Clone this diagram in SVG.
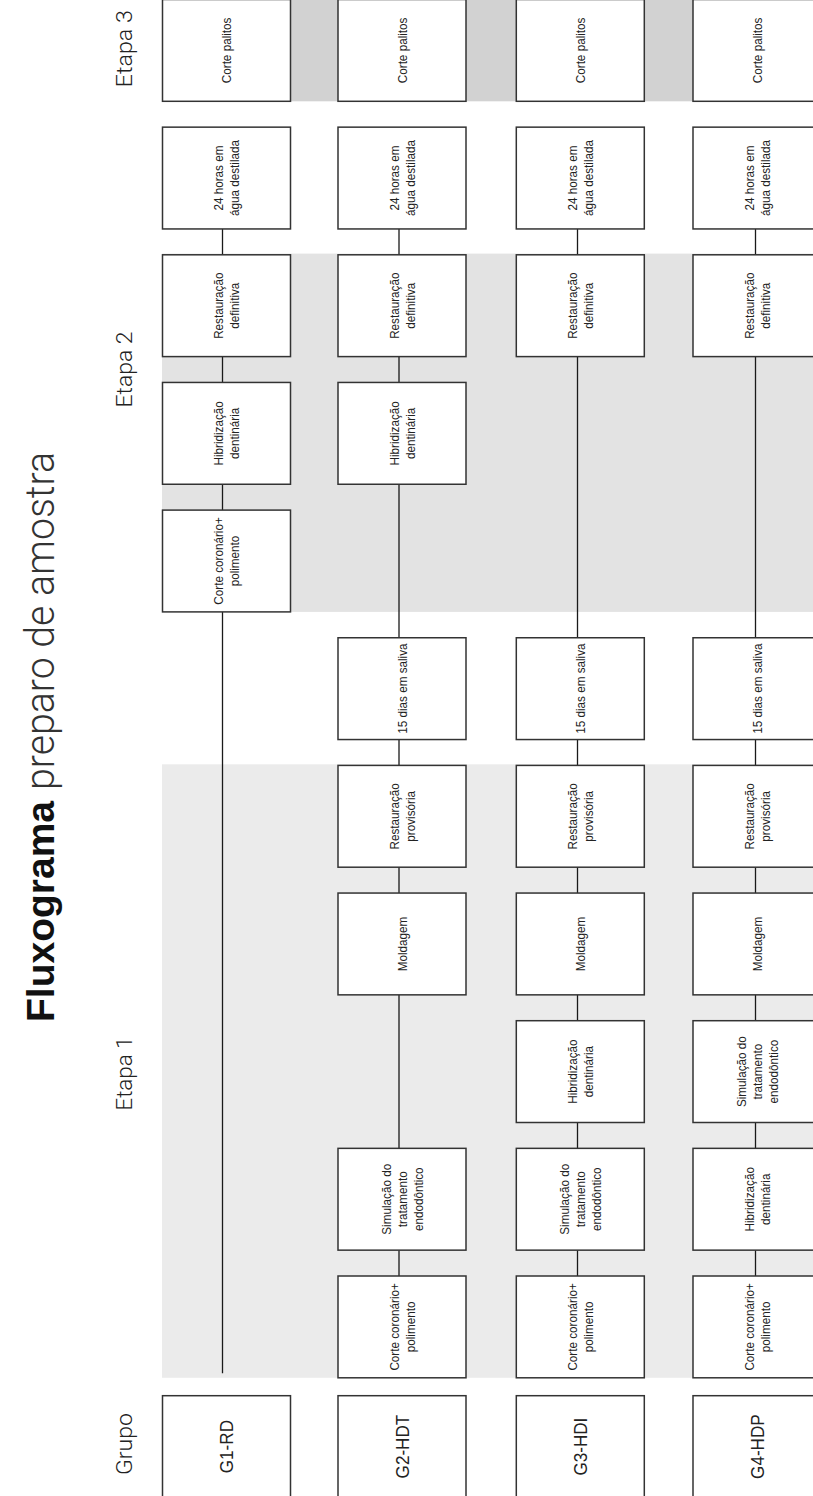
<svg xmlns="http://www.w3.org/2000/svg" width="813" height="1496" viewBox="0 0 813 1496">
<style>
.bg{fill:#fff}
.box{fill:#fff;stroke:#333;stroke-width:1.5}
.conn{stroke:#1a1a1a;stroke-width:1.3;fill:none}
.t{font-family:"Liberation Sans",Arial,sans-serif;font-size:13.3px;fill:#222;text-anchor:middle}
.g{font-family:"Liberation Sans",Arial,sans-serif;font-size:19px;fill:#222;text-anchor:middle}
.lab{font-family:Roboto,"Liberation Sans",Arial,sans-serif;font-weight:300;font-size:22px;fill:#222;text-anchor:middle}
.tl{font-family:Roboto,"Liberation Sans",Arial,sans-serif;font-weight:300;font-size:40px;fill:#333}
.tb{font-family:"Liberation Sans",Arial,sans-serif;font-weight:bold;font-size:39px;fill:#111}
</style>
<rect class="bg" x="0" y="0" width="813" height="1496"/>
<g id="stages">
<rect x="162.5" y="0" width="650.5" height="101.3" fill="#d2d2d2"/>
<rect x="162" y="253.6" width="651" height="358.3" fill="#e3e3e3"/>
<rect x="162" y="764.3" width="651" height="613.5" fill="#ebebeb"/>
</g>
<g id="title">
<text class="tb" transform="translate(53.5,1022) rotate(-90)" textLength="221" lengthAdjust="spacingAndGlyphs">Fluxograma</text>
<text class="tl" transform="translate(53.5,790) rotate(-90)" textLength="338" lengthAdjust="spacingAndGlyphs">preparo de amostra</text>
</g>
<g id="labels">
<text class="lab" transform="translate(131.7,48.7) rotate(-90)" textLength="77" lengthAdjust="spacingAndGlyphs">Etapa 3</text>
<text class="lab" transform="translate(131.7,369.5) rotate(-90)" textLength="76" lengthAdjust="spacingAndGlyphs">Etapa 2</text>
<text class="lab" transform="translate(131.7,1073.5) rotate(-90)" textLength="74" lengthAdjust="spacingAndGlyphs">Etapa 1</text>
<text class="lab" transform="translate(131.7,1444) rotate(-90)" textLength="62" lengthAdjust="spacingAndGlyphs">Grupo</text>
</g>
<g id="connectors">
<path class="conn" d="M222.5 228.95V254.8M222.5 356.6V382.45M222.5 484.25V510.1M222.5 611.9V1373.3"/>
<path class="conn" d="M399 228.95V254.8M399 356.6V382.45M399 484.25V637.75M399 739.55V765.4M399 867.2V893.05M399 994.85V1148.35M399 1250.15V1276"/>
<path class="conn" d="M577.5 228.95V254.8M577.5 356.6V637.75M577.5 739.55V765.4M577.5 867.2V893.05M577.5 994.85V1020.7M577.5 1122.5V1148.35M577.5 1250.15V1276"/>
<path class="conn" d="M755.5 228.95V254.8M755.5 356.6V637.75M755.5 739.55V765.4M755.5 867.2V893.05M755.5 994.85V1020.7M755.5 1122.5V1148.35M755.5 1250.15V1276"/>
</g>
<!-- G1 column -->
<g id="g1-corte-palitos"><rect class="box" x="162.5" y="-0.5" width="128" height="101.8"/><text class="t" transform="translate(226.5,50.4) rotate(-90) scale(0.88,1)" y="4.7">Corte palitos</text></g>
<g id="g1-24h"><rect class="box" x="162.5" y="127.15" width="128" height="101.8"/><text class="t" transform="translate(226.5,178.05) rotate(-90) scale(0.88,1)"><tspan x="0" y="-3.3">24 horas em</tspan><tspan x="0" y="12.7">água destilada</tspan></text></g>
<g id="g1-rest-def"><rect class="box" x="162.5" y="254.8" width="128" height="101.8"/><text class="t" transform="translate(226.5,305.7) rotate(-90) scale(0.88,1)"><tspan x="0" y="-3.3">Restauração</tspan><tspan x="0" y="12.7">definitiva</tspan></text></g>
<g id="g1-hibrid"><rect class="box" x="162.5" y="382.45" width="128" height="101.8"/><text class="t" transform="translate(226.5,433.35) rotate(-90) scale(0.88,1)"><tspan x="0" y="-3.3">Hibridização</tspan><tspan x="0" y="12.7">dentinária</tspan></text></g>
<g id="g1-corte-coron"><rect class="box" x="162.5" y="510.1" width="128" height="101.8"/><text class="t" transform="translate(226.5,561) rotate(-90) scale(0.88,1)"><tspan x="0" y="-3.3">Corte coronário+</tspan><tspan x="0" y="12.7">polimento</tspan></text></g>
<g id="g1-grupo"><rect class="box" x="162.5" y="1395.7" width="128" height="101.8"/><text class="g" transform="translate(226.5,1446.6) rotate(-90) scale(0.9,1)" y="6.8">G1-RD</text></g>
<!-- G2 column -->
<g id="g2-corte-palitos"><rect class="box" x="338" y="-0.5" width="128" height="101.8"/><text class="t" transform="translate(402,50.4) rotate(-90) scale(0.88,1)" y="4.7">Corte palitos</text></g>
<g id="g2-24h"><rect class="box" x="338" y="127.15" width="128" height="101.8"/><text class="t" transform="translate(402,178.05) rotate(-90) scale(0.88,1)"><tspan x="0" y="-3.3">24 horas em</tspan><tspan x="0" y="12.7">água destilada</tspan></text></g>
<g id="g2-rest-def"><rect class="box" x="338" y="254.8" width="128" height="101.8"/><text class="t" transform="translate(402,305.7) rotate(-90) scale(0.88,1)"><tspan x="0" y="-3.3">Restauração</tspan><tspan x="0" y="12.7">definitiva</tspan></text></g>
<g id="g2-hibrid"><rect class="box" x="338" y="382.45" width="128" height="101.8"/><text class="t" transform="translate(402,433.35) rotate(-90) scale(0.88,1)"><tspan x="0" y="-3.3">Hibridização</tspan><tspan x="0" y="12.7">dentinária</tspan></text></g>
<g id="g2-15dias"><rect class="box" x="338" y="637.75" width="128" height="101.8"/><text class="t" transform="translate(402,688.65) rotate(-90) scale(0.88,1)" y="4.7">15 dias em saliva</text></g>
<g id="g2-rest-prov"><rect class="box" x="338" y="765.4" width="128" height="101.8"/><text class="t" transform="translate(402,816.3) rotate(-90) scale(0.88,1)"><tspan x="0" y="-3.3">Restauração</tspan><tspan x="0" y="12.7">provisória</tspan></text></g>
<g id="g2-moldagem"><rect class="box" x="338" y="893.05" width="128" height="101.8"/><text class="t" transform="translate(402,943.95) rotate(-90) scale(0.88,1)" y="4.7">Moldagem</text></g>
<g id="g2-simul"><rect class="box" x="338" y="1148.35" width="128" height="101.8"/><text class="t" transform="translate(402,1199.25) rotate(-90) scale(0.88,1)"><tspan x="0" y="-11.3">Simulação do</tspan><tspan x="0" y="4.7">tratamento</tspan><tspan x="0" y="20.7">endodôntico</tspan></text></g>
<g id="g2-corte-coron"><rect class="box" x="338" y="1276" width="128" height="101.8"/><text class="t" transform="translate(402,1326.9) rotate(-90) scale(0.88,1)"><tspan x="0" y="-3.3">Corte coronário+</tspan><tspan x="0" y="12.7">polimento</tspan></text></g>
<g id="g2-grupo"><rect class="box" x="338" y="1395.7" width="128" height="101.8"/><text class="g" transform="translate(402,1446.6) rotate(-90) scale(0.9,1)" y="6.8">G2-HDT</text></g>
<!-- G3 column -->
<g id="g3-corte-palitos"><rect class="box" x="516.3" y="-0.5" width="128" height="101.8"/><text class="t" transform="translate(580.3,50.4) rotate(-90) scale(0.88,1)" y="4.7">Corte palitos</text></g>
<g id="g3-24h"><rect class="box" x="516.3" y="127.15" width="128" height="101.8"/><text class="t" transform="translate(580.3,178.05) rotate(-90) scale(0.88,1)"><tspan x="0" y="-3.3">24 horas em</tspan><tspan x="0" y="12.7">água destilada</tspan></text></g>
<g id="g3-rest-def"><rect class="box" x="516.3" y="254.8" width="128" height="101.8"/><text class="t" transform="translate(580.3,305.7) rotate(-90) scale(0.88,1)"><tspan x="0" y="-3.3">Restauração</tspan><tspan x="0" y="12.7">definitiva</tspan></text></g>
<g id="g3-15dias"><rect class="box" x="516.3" y="637.75" width="128" height="101.8"/><text class="t" transform="translate(580.3,688.65) rotate(-90) scale(0.88,1)" y="4.7">15 dias em saliva</text></g>
<g id="g3-rest-prov"><rect class="box" x="516.3" y="765.4" width="128" height="101.8"/><text class="t" transform="translate(580.3,816.3) rotate(-90) scale(0.88,1)"><tspan x="0" y="-3.3">Restauração</tspan><tspan x="0" y="12.7">provisória</tspan></text></g>
<g id="g3-moldagem"><rect class="box" x="516.3" y="893.05" width="128" height="101.8"/><text class="t" transform="translate(580.3,943.95) rotate(-90) scale(0.88,1)" y="4.7">Moldagem</text></g>
<g id="g3-hibrid"><rect class="box" x="516.3" y="1020.7" width="128" height="101.8"/><text class="t" transform="translate(580.3,1071.6) rotate(-90) scale(0.88,1)"><tspan x="0" y="-3.3">Hibridização</tspan><tspan x="0" y="12.7">dentinária</tspan></text></g>
<g id="g3-simul"><rect class="box" x="516.3" y="1148.35" width="128" height="101.8"/><text class="t" transform="translate(580.3,1199.25) rotate(-90) scale(0.88,1)"><tspan x="0" y="-11.3">Simulação do</tspan><tspan x="0" y="4.7">tratamento</tspan><tspan x="0" y="20.7">endodôntico</tspan></text></g>
<g id="g3-corte-coron"><rect class="box" x="516.3" y="1276" width="128" height="101.8"/><text class="t" transform="translate(580.3,1326.9) rotate(-90) scale(0.88,1)"><tspan x="0" y="-3.3">Corte coronário+</tspan><tspan x="0" y="12.7">polimento</tspan></text></g>
<g id="g3-grupo"><rect class="box" x="516.3" y="1395.7" width="128" height="101.8"/><text class="g" transform="translate(580.3,1446.6) rotate(-90) scale(0.9,1)" y="6.8">G3-HDI</text></g>
<!-- G4 column -->
<g id="g4-corte-palitos"><rect class="box" x="693" y="-0.5" width="128" height="101.8"/><text class="t" transform="translate(757,50.4) rotate(-90) scale(0.88,1)" y="4.7">Corte palitos</text></g>
<g id="g4-24h"><rect class="box" x="693" y="127.15" width="128" height="101.8"/><text class="t" transform="translate(757,178.05) rotate(-90) scale(0.88,1)"><tspan x="0" y="-3.3">24 horas em</tspan><tspan x="0" y="12.7">água destilada</tspan></text></g>
<g id="g4-rest-def"><rect class="box" x="693" y="254.8" width="128" height="101.8"/><text class="t" transform="translate(757,305.7) rotate(-90) scale(0.88,1)"><tspan x="0" y="-3.3">Restauração</tspan><tspan x="0" y="12.7">definitiva</tspan></text></g>
<g id="g4-15dias"><rect class="box" x="693" y="637.75" width="128" height="101.8"/><text class="t" transform="translate(757,688.65) rotate(-90) scale(0.88,1)" y="4.7">15 dias em saliva</text></g>
<g id="g4-rest-prov"><rect class="box" x="693" y="765.4" width="128" height="101.8"/><text class="t" transform="translate(757,816.3) rotate(-90) scale(0.88,1)"><tspan x="0" y="-3.3">Restauração</tspan><tspan x="0" y="12.7">provisória</tspan></text></g>
<g id="g4-moldagem"><rect class="box" x="693" y="893.05" width="128" height="101.8"/><text class="t" transform="translate(757,943.95) rotate(-90) scale(0.88,1)" y="4.7">Moldagem</text></g>
<g id="g4-simul"><rect class="box" x="693" y="1020.7" width="128" height="101.8"/><text class="t" transform="translate(757,1071.6) rotate(-90) scale(0.88,1)"><tspan x="0" y="-11.3">Simulação do</tspan><tspan x="0" y="4.7">tratamento</tspan><tspan x="0" y="20.7">endodôntico</tspan></text></g>
<g id="g4-hibrid"><rect class="box" x="693" y="1148.35" width="128" height="101.8"/><text class="t" transform="translate(757,1199.25) rotate(-90) scale(0.88,1)"><tspan x="0" y="-3.3">Hibridização</tspan><tspan x="0" y="12.7">dentinária</tspan></text></g>
<g id="g4-corte-coron"><rect class="box" x="693" y="1276" width="128" height="101.8"/><text class="t" transform="translate(757,1326.9) rotate(-90) scale(0.88,1)"><tspan x="0" y="-3.3">Corte coronário+</tspan><tspan x="0" y="12.7">polimento</tspan></text></g>
<g id="g4-grupo"><rect class="box" x="693" y="1395.7" width="128" height="101.8"/><text class="g" transform="translate(757,1446.6) rotate(-90) scale(0.9,1)" y="6.8">G4-HDP</text></g>
</svg>
